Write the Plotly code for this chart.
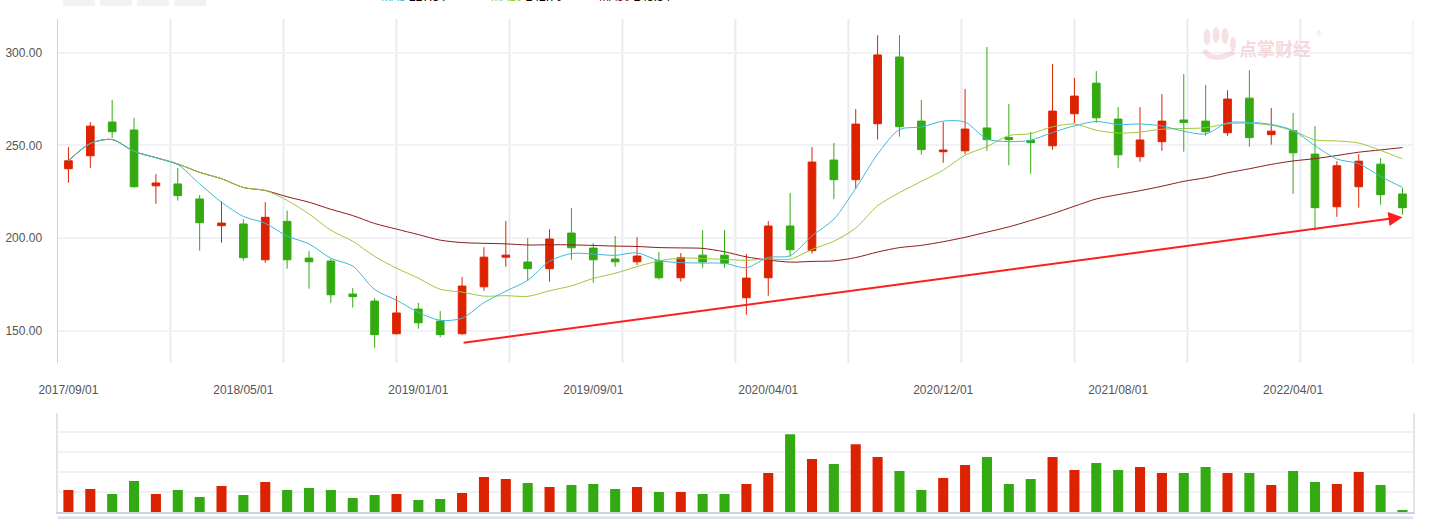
import plotly.graph_objects as go

# ---------------- data ----------------
tick_index = [0, 8, 16, 24, 32, 40, 48, 56]
tick_labels = ["2017/09/01", "2018/05/01", "2019/01/01", "2019/09/01",
               "2020/04/01", "2020/12/01", "2021/08/01", "2022/04/01"]

open_ = [237.4, 244.4, 262.6, 258.3, 228.2, 229.2, 221.1, 206.7, 207.6, 188.3,
         209.0, 189.2, 187.6, 169.8, 166.0, 148.4, 161.7, 155.2, 148.4, 173.7,
         189.7, 187.1, 183.5, 202.7, 194.6, 188.7, 187.2, 187.8, 178.6, 190.8,
         190.8, 167.8, 178.6, 206.5, 193.2, 242.1, 231.5, 261.7, 297.7, 263.1,
         246.6, 247.1, 259.4, 254.2, 252.7, 249.8, 267.1, 283.6, 264.2, 243.9,
         252.0, 263.7, 263.1, 256.8, 275.5, 255.8, 257.9, 245.3, 216.9, 227.7,
         239.9, 223.8]
high = [249.1, 262.6, 274.5, 264.8, 234.5, 237.8, 223.2, 219.8, 210.1, 219.4,
        214.9, 193.0, 188.9, 173.0, 167.6, 168.8, 165.0, 160.6, 179.0, 195.1,
        209.2, 200.0, 204.8, 216.2, 197.3, 201.1, 200.5, 192.5, 191.9, 204.3,
        204.3, 191.4, 209.2, 224.3, 249.1, 251.3, 269.6, 309.5, 309.5, 274.5,
        262.6, 280.4, 303.1, 272.4, 257.2, 293.9, 286.4, 290.1, 270.7, 270.7,
        277.7, 288.5, 282.6, 279.8, 290.6, 270.2, 267.5, 260.4, 241.5, 245.3,
        243.2, 227.0]
low = [229.9, 237.9, 254.0, 227.2, 218.5, 220.2, 193.2, 197.5, 187.8, 186.7,
       183.5, 172.7, 165.1, 162.5, 140.8, 147.9, 151.1, 146.4, 147.6, 171.6,
       184.5, 177.0, 176.5, 188.3, 175.9, 184.5, 185.4, 177.7, 176.5, 184.0,
       184.0, 158.6, 168.9, 189.9, 191.6, 221.0, 226.6, 253.1, 254.7, 245.0,
       240.6, 245.2, 247.1, 239.3, 234.7, 247.7, 262.1, 262.2, 237.9, 241.2,
       247.1, 246.6, 255.2, 255.2, 249.3, 250.4, 223.9, 204.0, 211.5, 216.4,
       218.0, 212.6]
close = [241.7, 260.4, 257.4, 227.7, 229.7, 222.9, 208.3, 208.1, 189.4, 211.2,
         188.3, 187.2, 169.4, 168.4, 147.9, 159.6, 154.3, 147.9, 174.1, 189.7,
         190.8, 183.5, 199.5, 194.8, 188.3, 187.2, 190.3, 178.6, 189.4, 187.1,
         186.5, 178.4, 206.5, 193.7, 241.0, 231.5, 261.5, 298.8, 260.1, 247.7,
         247.5, 258.8, 253.1, 253.1, 251.5, 268.5, 276.6, 264.9, 244.9, 252.9,
         263.1, 262.4, 257.4, 275.0, 254.2, 257.7, 246.0, 216.4, 239.0, 241.5,
         223.4, 216.4]
volume = [22.3, 23.3, 18.3, 31.3, 18.3, 22.3, 15.3, 26.3, 17.3, 30.3,
          22.3, 24.3, 22.3, 14.3, 17.3, 18.3, 12.3, 13.3, 19.3, 35.3,
          33.3, 29.3, 25.3, 27.3, 28.3, 23.3, 25.3, 20.3, 20.3, 18.3,
          18.3, 28.3, 39.3, 78.3, 53.3, 48.3, 68.3, 55.3, 41.3, 22.3,
          34.3, 47.3, 55.3, 28.3, 33.3, 55.3, 42.3, 49.3, 42.3, 45.3,
          39.3, 39.3, 45.3, 39.3, 39.3, 27.3, 41.3, 30.3, 28.3, 40.3,
          27.3, 2.3]
ma5 = [241.70, 251.05, 253.17, 246.80, 243.38, 239.62, 229.20, 219.34, 211.68, 207.98,
       201.06, 196.84, 189.10, 184.90, 172.24, 166.50, 159.92, 155.62, 156.76, 165.12,
       171.36, 177.20, 187.52, 191.66, 191.38, 190.66, 192.02, 187.84, 186.76, 186.52,
       186.38, 184.00, 189.58, 190.44, 201.22, 210.22, 226.84, 245.30, 258.58, 259.92,
       263.12, 262.58, 253.44, 252.04, 252.80, 257.00, 260.56, 262.92, 261.28, 261.56,
       260.48, 257.64, 256.14, 262.16, 262.42, 261.34, 258.06, 249.86, 242.66, 240.12,
       233.26, 227.34]
ma10 = [241.70, 251.05, 253.17, 246.80, 243.38, 239.97, 235.44, 232.03, 227.29, 225.68,
        220.34, 213.02, 204.22, 198.29, 190.11, 183.78, 178.38, 172.36, 170.83, 168.68,
        168.93, 168.56, 171.57, 174.21, 178.25, 181.01, 184.61, 187.68, 189.21, 188.95,
        188.52, 188.01, 188.71, 188.60, 193.87, 198.30, 205.42, 217.44, 224.51, 230.57,
        236.67, 244.71, 249.37, 255.31, 256.36, 260.06, 261.57, 258.18, 256.66, 257.18,
        258.74, 259.10, 259.53, 261.72, 261.99, 260.91, 257.85, 253.00, 252.41, 251.27,
        247.30, 242.70]
ma30 = [241.70, 251.05, 253.17, 246.80, 243.38, 239.97, 235.44, 232.03, 227.29, 225.68,
        222.28, 219.36, 215.52, 212.15, 207.87, 204.85, 201.88, 198.88, 197.57, 197.18,
        196.88, 196.27, 196.41, 196.34, 196.02, 195.68, 195.48, 194.88, 194.69, 194.44,
        192.60, 189.86, 188.17, 187.03, 187.41, 187.70, 189.47, 192.49, 194.85, 196.07,
        198.04, 200.43, 203.22, 206.04, 209.49, 213.12, 217.20, 221.10, 223.46, 225.57,
        227.98, 230.61, 232.54, 235.21, 237.41, 239.76, 241.61, 242.87, 244.53, 246.34,
        247.57, 248.84]

# trend arrow drawn on the chart (start / end in data units)
arrow_start = (18.0, 143.4)
arrow_end = (61.0, 211.3)

# ---------------- styling ----------------
W, H = 1441, 519
RED = "#dd2200"
GREEN = "#33aa11"
C_MA5 = "#3cb8dc"
C_MA10 = "#9cc83c"
C_MA30 = "#8b1c1c"
FONT = "Liberation Sans, Arial, sans-serif"

x = list(range(len(close)))
X0, X1 = 57.5 / W, 1413.4 / W


def py(px):
    return 1 - px / H


fig = go.Figure()

fig.add_trace(go.Candlestick(
    x=x, open=open_, high=high, low=low, close=close,
    increasing=dict(line=dict(color=RED, width=1), fillcolor=RED),
    decreasing=dict(line=dict(color=GREEN, width=1), fillcolor=GREEN),
    whiskerwidth=0, showlegend=False, xaxis="x", yaxis="y", hoverinfo="skip"))

for vals, col in [(ma30, C_MA30), (ma10, C_MA10), (ma5, C_MA5)]:
    fig.add_trace(go.Scatter(x=x, y=vals, mode="lines",
                             line=dict(color=col, width=1, shape="spline", smoothing=0.8),
                             showlegend=False, hoverinfo="skip", xaxis="x", yaxis="y"))

vol_colors = [RED if c >= o else GREEN for o, c in zip(open_, close)]
fig.add_trace(go.Bar(x=x, y=volume, marker=dict(color=vol_colors, line=dict(width=0)),
                     width=0.46, showlegend=False, hoverinfo="skip",
                     xaxis="x2", yaxis="y2"))

shapes = []
# vertical split lines of the main panel (12 equal sections)
n = len(close)
for k in range(1, 13):
    xv = -0.5 + k * n / 12
    shapes.append(dict(type="line", xref="x", yref="paper", x0=xv, x1=xv,
                       y0=py(363), y1=py(19), line=dict(color="#e8ecf2", width=2),
                       layer="below"))
# bottom slider band
shapes.append(dict(type="rect", xref="paper", yref="paper", x0=X0, x1=X1,
                   y0=0, y1=py(516.5), fillcolor="#dde1e8", line=dict(width=0)))
# top-left tool buttons (cut off by the page top)
for bx in [63, 100, 137, 174]:
    shapes.append(dict(type="rect", xref="paper", yref="paper", x0=bx / W, x1=(bx + 32) / W,
                       y0=py(6), y1=1.02, fillcolor="#f2f2f2", line=dict(width=0)))
# watermark hand icon (rough)
pink = "rgba(236,170,178,0.35)"
for (cx, cy, rx, ry) in [(1207, 37, 3.5, 8), (1216, 35, 3.5, 8), (1225, 36, 3.5, 8),
                         (1233, 44, 3, 7)]:
    shapes.append(dict(type="circle", xref="paper", yref="paper",
                       x0=(cx - rx) / W, x1=(cx + rx) / W, y0=py(cy + ry), y1=py(cy - ry),
                       fillcolor=pink, line=dict(width=0)))
shapes.append(dict(type="path", xref="paper", yref="paper",
                   path="M {:.5f},{:.5f} Q {:.5f},{:.5f} {:.5f},{:.5f}".format(
                       1204 / W, py(50), 1212 / W, py(64), 1234 / W, py(52)),
                   line=dict(color=pink, width=5)))

annotations = [
    dict(x=arrow_end[0], y=arrow_end[1], ax=arrow_start[0], ay=arrow_start[1],
         xref="x", yref="y", axref="x", ayref="y", text="", showarrow=True,
         arrowhead=2, arrowsize=1.4, arrowwidth=2, arrowcolor="#ff1e1e"),
    dict(x=1237 / W, y=py(48), xref="paper", yref="paper", showarrow=False,
         xanchor="left", yanchor="middle",
         text="<b>点掌财经</b>", font=dict(family="Noto Sans CJK SC", size=18,
                                        color="rgba(236,170,178,0.45)")),
    dict(x=1314 / W, y=py(33), xref="paper", yref="paper", showarrow=False,
         xanchor="left", yanchor="middle",
         text="®", font=dict(family=FONT, size=8, color="rgba(236,170,178,0.5)")),
]
legend_items = [(379, "MA5", C_MA5, ma5[-1]), (489, "MA10", C_MA10, ma10[-1]),
                (597, "MA30", C_MA30, ma30[-1])]
for lx, name, col, val in legend_items:
    annotations.append(dict(
        x=lx / W, y=1, xref="paper", yref="paper", xanchor="left", yanchor="bottom",
        yshift=-6, showarrow=False,
        text="<span style='color:{}'>{}</span> <span style='color:#000'>{:.2f}</span>".format(
            col, name, val),
        font=dict(family=FONT, size=12)))

fig.update_layout(
    width=W, height=H, margin=dict(l=0, r=0, t=0, b=0, autoexpand=False),
    paper_bgcolor="white", plot_bgcolor="white",
    boxgap=0.5, bargap=0.5, showlegend=False,
    shapes=shapes, annotations=annotations,
    xaxis=dict(domain=[X0, X1], range=[-0.5, n - 0.5], anchor="y", automargin=False,
               tickmode="array", tickvals=tick_index, ticktext=tick_labels,
               ticks="outside", ticklen=16, tickcolor="rgba(0,0,0,0)",
               showgrid=False, zeroline=False, showline=False,
               rangeslider=dict(visible=False),
               tickfont=dict(family=FONT, size=12, color="#555")),
    yaxis=dict(domain=[py(363), py(19)], range=[132.6, 318.2], anchor="x", automargin=False,
               tickmode="array", tickvals=[150, 200, 250, 300],
               ticktext=["150.00", "200.00", "250.00", "300.00"],
               ticks="outside", ticklen=12, tickcolor="rgba(0,0,0,0)",
               showgrid=True, gridcolor="#f1f2f6", gridwidth=2, zeroline=False,
               showline=True, linecolor="#c9d2e3", linewidth=1,
               tickfont=dict(family=FONT, size=12, color="#555")),
    xaxis2=dict(domain=[X0, X1], range=[-0.5, n - 0.5], anchor="y2", automargin=False,
                showticklabels=False, showgrid=False, zeroline=False,
                showline=True, linecolor="#c9d3e6", linewidth=2),
    yaxis2=dict(domain=[py(512.3), py(412.5)], range=[0, 100], anchor="x2", automargin=False,
                tickmode="linear", tick0=0, dtick=20, showticklabels=False,
                showgrid=True, gridcolor="#eff1f5", gridwidth=2, zeroline=False,
                showline=True, linecolor="#dfe4ed", linewidth=2, mirror=True),
)

fig.write_html("out.html")
